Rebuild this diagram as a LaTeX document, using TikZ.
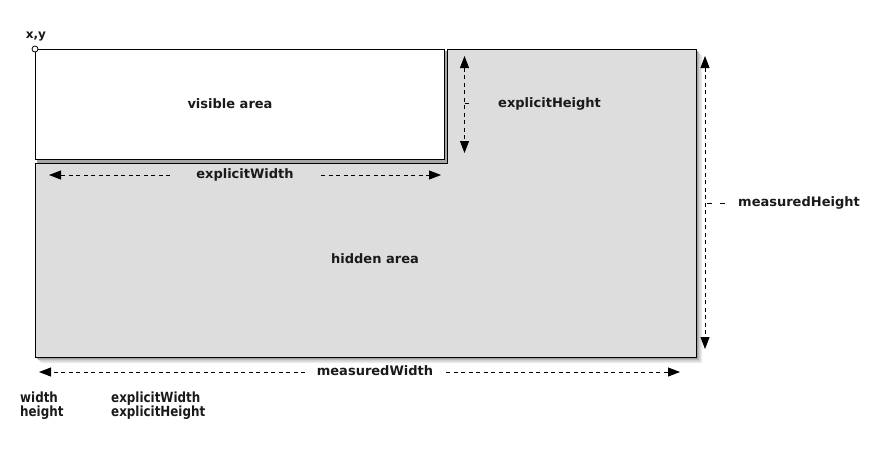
\documentclass[tikz,border=0pt]{standalone}
\usepackage{fontspec}
\setmainfont{DejaVu Sans}
\newfontfamily\condfont[FakeStretch=0.85]{DejaVu Sans}
\usetikzlibrary{arrows.meta}
\definecolor{areagray}{HTML}{DDDDDD}
\definecolor{inkc}{HTML}{1A1A1A}
\begin{document}
\begin{tikzpicture}[x=1pt,y=-1pt,
  lbl/.style={font=\fontsize{13}{15}\selectfont\bfseries, text=inkc, inner sep=0pt},
  foot/.style={font=\condfont\fontsize{14}{13}\selectfont\bfseries, text=inkc, inner sep=0pt, anchor=base west},
  dim/.style={draw=black, line width=0.9pt, dash pattern=on 4pt off 3.5pt},
  tipend/.style={-{Triangle[length=12pt,width=9pt]}},
  tipboth/.style={{Triangle[length=12pt,width=9pt]}-{Triangle[length=12pt,width=9pt]}},
  boxline/.style={draw=black, line width=1pt}]
\useasboundingbox (0,0) rectangle (890,448);
\fill[white] (0,0) rectangle (890,448);
% shadow of hidden area
\foreach \o/\c in {6/8,4.5/16,3/28,1.5/42}{
  \fill[black!\c] (447+\o,49+\o) -- (696+\o,49+\o) -- (696+\o,357+\o) -- (35+\o,357+\o) -- (35+\o,163+\o) -- (447+\o,163+\o) -- cycle;
}
% shadow of visible area
\fill[black!35] (37,51) rectangle (447,163);
% hidden area (L shape)
\path[boxline, fill=areagray] (447,49) -- (696,49) -- (696,357) -- (35,357) -- (35,163) -- (447,163) -- cycle;
% visible area
\node[boxline, fill=white, minimum width=409pt, minimum height=110pt, anchor=north west, inner sep=0pt] (vis) at (35,49) {};
\node[lbl] (vislbl) at (230,104) {visible area};
\node[lbl] (hidlbl) at (375,259) {hidden area};
% origin
\node[circle, draw=black, line width=0.8pt, fill=white, minimum size=6pt, inner sep=0pt] (origin) at (35,49) {};
\node[lbl, font=\fontsize{12}{14}\selectfont\bfseries] (xy) at (36,37) {x,y};
% explicitHeight
\coordinate (ehtop) at (464.5,56);
\coordinate (ehbot) at (464.5,153);
\coordinate (ehmid) at (464.5,103);
\coordinate (ehtick) at (469,103);
\draw[dim, tipboth] (ehtop) -- (ehbot);
\draw[line width=0.8pt] (ehmid) -- (ehtick);
\node[lbl, anchor=west] (ehlbl) at (498,104) {explicitHeight};
% explicitWidth
\node[lbl] (ewlbl) at (245,175) {explicitWidth};
\coordinate (ewl) at (49,175);
\coordinate (ewr) at (441,175);
\coordinate (ewl0) at (170,175);
\coordinate (ewr0) at (321,175);
\draw[dim, tipend] (ewl0) -- (ewl);
\draw[dim, tipend] (ewr0) -- (ewr);
% measuredHeight
\coordinate (mhtop) at (705,56);
\coordinate (mhbot) at (705,349);
\coordinate (mhmid) at (705,203);
\draw[dim, tipboth] (mhtop) -- (mhbot);
\draw[line width=0.9pt] (mhmid) ++(2,0) -- ++(5,0) ++(8,0) -- ++(5,0);
\node[lbl, anchor=west] (mhlbl) at (738,203) {measuredHeight};
% measuredWidth
\node[lbl] (mwlbl) at (375,371) {measuredWidth};
\coordinate (mwl) at (39,372);
\coordinate (mwr) at (680,372);
\coordinate (mwl0) at (305,372);
\coordinate (mwr0) at (446,372);
\draw[dim, tipend] (mwl0) -- (mwl);
\draw[dim, tipend] (mwr0) -- (mwr);
% footer
\node[foot] (fw) at (20,402) {width};
\node[foot] (fh) at (20,416) {height};
\node[foot] (few) at (111,402) {explicitWidth};
\node[foot] (feh) at (111,416) {explicitHeight};
\end{tikzpicture}
\end{document}
